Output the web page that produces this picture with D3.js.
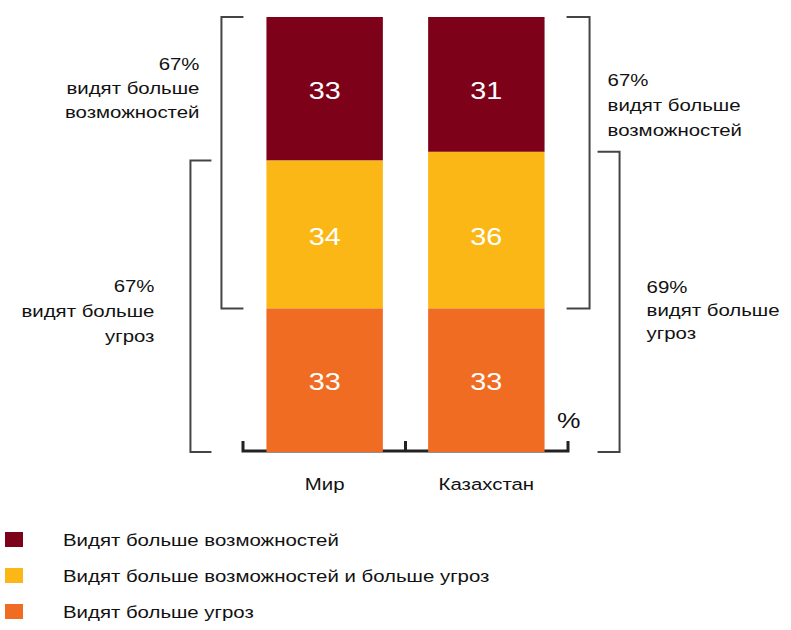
<!DOCTYPE html>
<html>
<head>
<meta charset="utf-8">
<script src="https://cdn.jsdelivr.net/npm/d3@7"></script>
<style>
  body { margin: 0; background: #fff; }
  text { font-family: "Liberation Sans", Arial, sans-serif; fill: #111; }
</style>
</head>
<body>
<div id="chart"></div>
<script>
const width = 791, height = 630;

// data
const categories = ["Мир", "Казахстан"];
const opportunities = [33, 31];   // видят больше возможностей
const both = [34, 36];            // возможностей и угроз
const threats = [33, 33];         // видят больше угроз
const seriesNames = ["Видят больше возможностей", "Видят больше возможностей и больше угроз", "Видят больше угроз"];
const colors = ["#7d0118", "#fbb715", "#ef6c22"];

const svg = d3.select("#chart").append("svg")
    .attr("width", width).attr("height", height);

const x = d3.scaleBand().domain(categories)
    .range([243, 568]).paddingInner(0.28).paddingOuter(0.145);
const y = d3.scaleLinear().domain([0, 100]).range([452, 17]);

const sx = 1.2; // the original type is stretched sideways

function label(g, tx, ty, str, size, anchor) {
  g.append("g").attr("transform", `translate(${tx},${ty}) scale(${sx},1)`)
    .append("text")
    .attr("text-anchor", anchor || "start")
    .attr("font-size", size)
    .text(str);
}

// baseline with ticks
const base = svg.append("g");
const y0 = y(0) - 1;
base.append("path")
    .attr("d", `M${x.range()[0]},${y0 - 10}V${y0}H${x.range()[1]}V${y0 - 10}`)
    .attr("fill", "none").attr("stroke", "#222").attr("stroke-width", 3);
const mid = (x("Мир") + x.bandwidth() + x("Казахстан")) / 2;
base.append("line")
    .attr("x1", mid).attr("x2", mid).attr("y1", y0 - 10).attr("y2", y0)
    .attr("stroke", "#222").attr("stroke-width", 3);

// stacked bars
const rows = categories.map((c, i) => ({ cat: c, threats: threats[i], both: both[i], opp: opportunities[i] }));
const stack = d3.stack().keys(["opp", "both", "threats"]).order(d3.stackOrderReverse)(rows);

stack.forEach((layer, li) => {
  const g = svg.append("g");
  g.selectAll("rect").data(layer).join("rect")
      .attr("x", d => x(d.data.cat))
      .attr("y", d => y(d[1]))
      .attr("width", x.bandwidth())
      .attr("height", d => y(d[0]) - y(d[1]))
      .attr("fill", colors[li]);
  // value labels sit on one row per layer, aligned on the first bar
  const cy = (y(layer[0][0]) + y(layer[0][1])) / 2 + 10;
  layer.forEach(d => {
    const cx = x(d.data.cat) + x.bandwidth() / 2;
    g.append("g").attr("transform", `translate(${cx},${cy}) scale(${sx},1)`)
      .append("text").attr("text-anchor", "middle")
      .attr("font-size", 24).style("fill", "#fff")
      .text(d[1] - d[0]);
  });
});

// category labels
categories.forEach(c => label(svg, x(c) + x.bandwidth() / 2, 490, c, 17, "middle"));
label(svg, 557, 428, "%", 22);

// brackets
function bracket(xv, xt, top, bot) {
  svg.append("path")
    .attr("d", `M${xt},${top}H${xv}V${bot}H${xt}`)
    .attr("fill", "none").attr("stroke", "#444").attr("stroke-width", 2);
}
const b0 = x("Мир"), b1 = x("Казахстан") + x.bandwidth();
// Мир (left)
bracket(b0 - 45, b0 - 23, y(100), y(threats[0]));
bracket(b0 - 76, b0 - 55, y(threats[0] + both[0]), y(0));
// Казахстан (right)
bracket(b1 + 45, b1 + 22, y(100), y(threats[1]));
bracket(b1 + 75, b1 + 53, y(threats[1] + both[1]), y(0));

const oppTotal = categories.map((c, i) => opportunities[i] + both[i]);
const thrTotal = categories.map((c, i) => threats[i] + both[i]);

[oppTotal[0] + "%", "видят больше", "возможностей"].forEach((t, k) =>
  label(svg, b0 - 67, 70 + k * 24, t, 17, "end"));
[thrTotal[0] + "%", "видят больше", "угроз"].forEach((t, k) =>
  label(svg, b0 - 112, 292 + k * 25, t, 17, "end"));
[oppTotal[1] + "%", "видят больше", "возможностей"].forEach((t, k) =>
  label(svg, b1 + 63, 86 + k * 25, t, 17));
[thrTotal[1] + "%", "видят больше", "угроз"].forEach((t, k) =>
  label(svg, b1 + 102, 293 + k * 23, t, 17));

// legend
seriesNames.forEach((n, i) => {
  const ly = 532 + i * 36;
  svg.append("rect").attr("x", 5).attr("y", ly).attr("width", 18).attr("height", 15)
    .attr("fill", colors[i]);
  label(svg, 63, ly + 14, n, 17);
});
</script>
</body>
</html>
